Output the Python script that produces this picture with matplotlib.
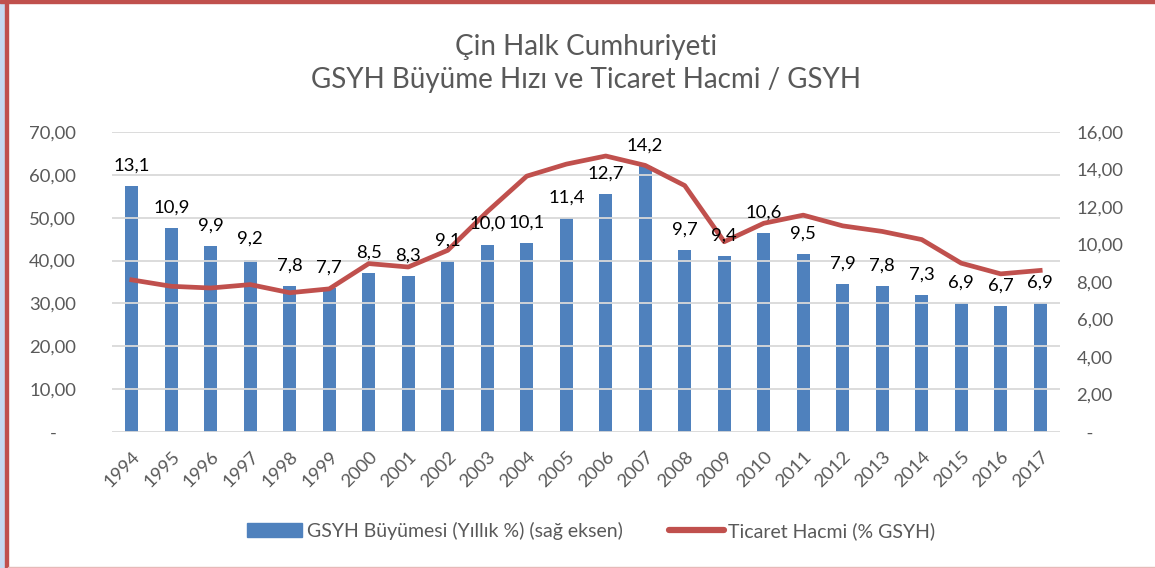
import matplotlib.pyplot as plt
from matplotlib.patches import Rectangle
from matplotlib.lines import Line2D
from matplotlib.ticker import FuncFormatter, MultipleLocator

plt.rcParams['font.family'] = ['Lato', 'DejaVu Sans']

# --- veriler ---
years = [str(y) for y in range(1994, 2018)]
gsyh_buyume = [13.1, 10.9, 9.9, 9.2, 7.8, 7.7, 8.5, 8.3, 9.1, 10.0, 10.1, 11.4,
               12.7, 14.2, 9.7, 9.4, 10.6, 9.5, 7.9, 7.8, 7.3, 6.9, 6.7, 6.9]
ticaret_hacmi = [35.5, 34.0, 33.6, 34.4, 32.5, 33.4, 39.3, 38.5, 42.4, 51.4, 59.7, 62.5,
                 64.4, 62.2, 57.5, 44.4, 48.7, 50.6, 48.1, 46.8, 44.9, 39.4, 36.9, 37.7]

title = "Çin Halk Cumhuriyeti\nGSYH Büyüme Hızı ve Ticaret Hacmi / GSYH"
bar_label = "GSYH Büyümesi (Yıllık %) (sağ eksen)"
line_label = "Ticaret Hacmi (% GSYH)"

BLUE = '#4F81BD'
RED = '#C0504D'
GRAY = '#595959'
GRID = '#D9D9D9'
FS = 13.3


def tr_fmt(v, pos=None, left=True):
    """Excel muhasebe biçimi: 70,00 ve sıfır için '-'."""
    if abs(v) < 1e-9:
        return '-    ' if left else '  -'
    return f'{v:.2f}'.replace('.', ',')


fig = plt.figure(figsize=(11.55, 5.68), dpi=100)
ax = fig.add_axes([0.097, 0.2394, 0.8207, 0.5282])
ax2 = ax.twinx()

x = list(range(len(years)))

# çubuklar sağ eksende
ax2.bar(x, gsyh_buyume, width=0.32, color=BLUE, zorder=2)
ax2.set_ylim(0, 16)
ax2.yaxis.set_major_locator(MultipleLocator(2))
ax2.yaxis.set_major_formatter(FuncFormatter(lambda v, p: tr_fmt(v, p, left=False)))

# çizgi sol eksende, çubukların üstünde
ax.plot(x, ticaret_hacmi, color=RED, lw=3.4, solid_joinstyle='round', zorder=3)
ax.set_ylim(0, 70)
ax.yaxis.set_major_locator(MultipleLocator(10))
ax.yaxis.set_major_formatter(FuncFormatter(lambda v, p: tr_fmt(v, p, left=True)))
ax.set_xlim(-0.5, len(years) - 0.5)
ax.set_zorder(ax2.get_zorder() + 1)
ax.patch.set_visible(False)

ax.yaxis.grid(True, color=GRID, lw=1.3)
ax.set_axisbelow(True)
ax2.set_axisbelow(True)

for a in (ax, ax2):
    for s in a.spines.values():
        s.set_visible(False)

ax.set_xticks(x)
ax.set_xticklabels(years, rotation=45, ha='right', va='top', rotation_mode='anchor')
ax.tick_params(axis='x', length=0, pad=12, labelsize=FS, labelcolor=GRAY)
ax.tick_params(axis='y', length=0, pad=26, labelsize=FS, labelcolor=GRAY)
ax2.tick_params(axis='y', length=0, pad=12, labelsize=FS, labelcolor=GRAY)

# veri etiketleri
for xi, v in zip(x, gsyh_buyume):
    ax.annotate(f'{v:.1f}'.replace('.', ','), xy=(xi, v), xycoords=ax2.transData,
                xytext=(0, 9), textcoords='offset points', ha='center', va='bottom',
                fontsize=FS, color='black', zorder=5)

fig.text(0.507, 0.888, title, ha='center', va='center', fontsize=20,
         color=GRAY, linespacing=1.3)

handles = [Rectangle((0, 0), 1, 1, color=BLUE),
           Line2D([0], [0], color=RED, lw=4.5, solid_capstyle='round')]
leg = fig.legend(handles, [bar_label, line_label], loc='center',
                 bbox_to_anchor=(0.512, 0.065), ncol=2, frameon=False,
                 fontsize=14, handlelength=2.8, handleheight=0.75,
                 columnspacing=2.4, handletextpad=0.25)
for t in leg.get_texts():
    t.set_color(GRAY)

# çerçeve süsleri
fig.patches.append(Rectangle((0, 0), 5 / 1155, 1, transform=fig.transFigure,
                             color='#C6D9F1', zorder=0))
fig.patches.append(Rectangle((5 / 1155, 0), 3 / 1155, 1, transform=fig.transFigure,
                             color=RED, zorder=1))
fig.patches.append(Rectangle((0, 1 - 3 / 568), 1, 3 / 568, transform=fig.transFigure,
                             color=RED, zorder=1))
fig.patches.append(Rectangle((8 / 1155, 0), 1, 1.5 / 568, transform=fig.transFigure,
                             color='#E6B9B8', zorder=1))

fig.savefig('out.png', dpi=100)
